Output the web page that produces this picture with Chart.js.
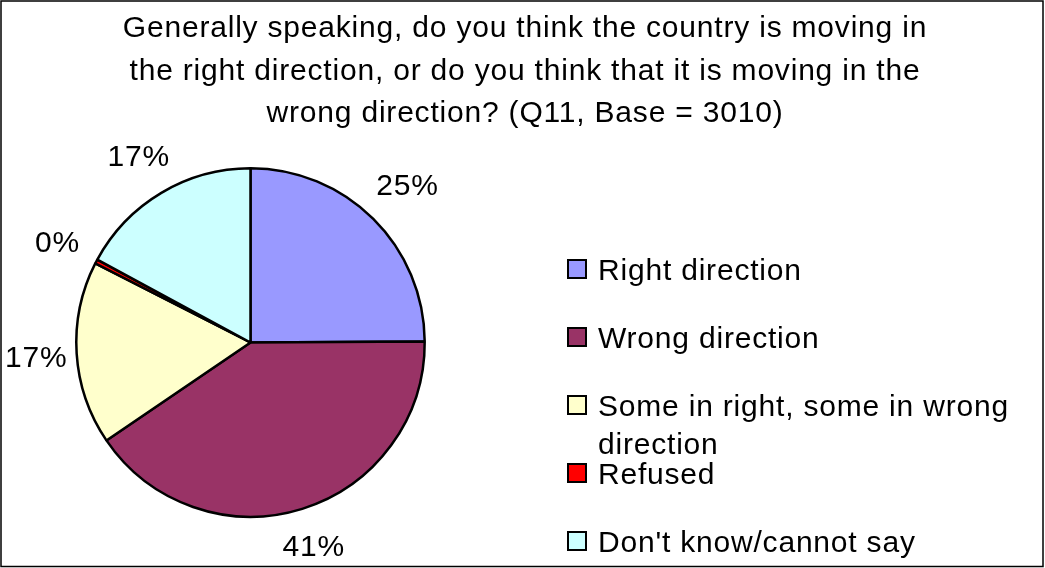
<!DOCTYPE html>
<html lang="en">
<head>
<meta charset="utf-8">
<title>Country direction (Q11)</title>
<script src="https://cdn.jsdelivr.net/npm/chart.js@4.4.1/dist/chart.umd.min.js"></script>
<style>
    html, body { margin: 0; padding: 0; background: #ffffff; }
    #wrap { position: relative; width: 1045px; height: 568px; }
</style>
</head>
<body>
<div id="wrap"><canvas id="directionChart" width="1045" height="568"></canvas></div>
<script>
// --- DATA ---
const categories = [
    "Right direction",
    "Wrong direction",
    "Some in right, some in wrong direction",
    "Refused",
    "Don't know/cannot say"
];
const shares = [24.9, 40.6, 17.0, 0.4, 17.1]; // percent of respondents
const sliceColors = ["#9999FF", "#993366", "#FFFFCC", "#FF0000", "#CCFFFF"];
const titleLines = [
    "Generally speaking, do you think the country is moving in",
    "the right direction, or do you think that it is moving in the",
    "wrong direction? (Q11, Base = 3010)"
];

// --- STYLE ---
const FONT = '30px "Liberation Sans", Arial, sans-serif';
const SPACING = "0.8px";   // a touch of tracking, like the office renderer
const CAP_HALF = 10.7;     // half the cap height at 30px

/**
 * Draws the frame, title, percentage labels and the legend.
 * The pie itself is left to Chart.js.
 */
const decorations = {
    id: "decorations",
    beforeDraw(chart) {
        const ctx = chart.ctx;
        ctx.save();
        ctx.fillStyle = "#ffffff";
        ctx.fillRect(0, 0, chart.width, chart.height);
        ctx.strokeStyle = "#000000";
        ctx.lineWidth = 1.5;
        ctx.strokeRect(1, 1, chart.width - 3, chart.height - 2.5);
        ctx.restore();
    },
    afterDatasetsDraw(chart) {
        const ctx = chart.ctx;
        ctx.save();
        ctx.font = FONT;
        ctx.letterSpacing = SPACING;
        ctx.fillStyle = "#000000";

        // Title, centred over the whole chart
        ctx.textAlign = "center";
        ctx.textBaseline = "alphabetic";
        titleLines.forEach((line, i) => ctx.fillText(line, 525, 37 + i * 42.5));

        // Percentage labels just outside each slice
        const meta = chart.getDatasetMeta(0);
        const gap = 19;
        meta.data.forEach((arc, i) => {
            const { x, y, startAngle, endAngle, outerRadius } = arc.getProps(["x", "y", "startAngle", "endAngle", "outerRadius"], true);
            const mid = (startAngle + endAngle) / 2;
            const ux = Math.cos(mid), uy = Math.sin(mid);
            const text = Math.round(shares[i]) + "%";
            const w = ctx.measureText(text).width;
            const dist = outerRadius + gap + Math.abs(ux) * w / 2 + Math.abs(uy) * CAP_HALF;
            let cx = x + ux * dist;
            const cy = y + uy * dist;
            cx = Math.max(cx, w / 2 + 5);
            ctx.fillText(text, cx, cy + CAP_HALF);
        });

        // Legend on the right, fixed slots with wrapping for long entries
        ctx.textAlign = "left";
        const boxX = 568, textX = 598, firstBase = 280, slot = 68, lineGap = 38;
        const maxWidth = chart.width - textX - 12;
        categories.forEach((label, i) => {
            const base = firstBase + i * slot;
            ctx.fillStyle = sliceColors[i];
            ctx.fillRect(boxX, base - 20, 18, 18);
            ctx.strokeStyle = "#000000";
            ctx.lineWidth = 2;
            ctx.strokeRect(boxX, base - 20, 18, 18);

            ctx.fillStyle = "#000000";
            wrapText(ctx, label, maxWidth).forEach((line, j) => {
                ctx.fillText(line, textX, base + j * lineGap);
            });
        });
        ctx.restore();
    }
};

function wrapText(ctx, text, maxWidth) {
    const words = text.split(" ");
    const lines = [];
    let current = "";
    words.forEach(word => {
        const trial = current ? current + " " + word : word;
        if (current && ctx.measureText(trial).width > maxWidth) {
            lines.push(current);
            current = word;
        } else {
            current = trial;
        }
    });
    if (current) lines.push(current);
    return lines;
}

// --- CHART ---
const ctx = document.getElementById("directionChart").getContext("2d");
new Chart(ctx, {
    type: "pie",
    data: {
        labels: categories,
        datasets: [{
            data: shares,
            backgroundColor: sliceColors,
            borderColor: "#000000",
            borderWidth: 2.5
        }]
    },
    options: {
        responsive: false,
        animation: false,
        devicePixelRatio: 1,
        radius: 174.2,
        layout: { padding: { left: 70, right: 614, top: 157, bottom: 40 } },
        plugins: {
            legend: { display: false },
            title: { display: false },
            tooltip: { enabled: false }
        }
    },
    plugins: [decorations]
});
</script>
</body>
</html>
